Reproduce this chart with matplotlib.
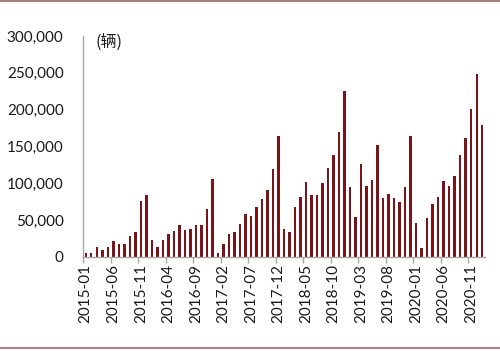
import matplotlib
matplotlib.use("Agg")
import matplotlib.pyplot as plt
from matplotlib.lines import Line2D

plt.rcParams['font.family'] = ['Lato', 'Noto Sans CJK SC', 'DejaVu Sans']

months = [f"{y}-{m:02d}" for y in range(2015, 2021) for m in range(1, 13)] + ["2021-01"]
values = [
    6000, 6000, 13600, 10000, 13000, 21400, 17000, 17800, 28000, 34600, 76000, 84000,
    22800, 13600, 22800, 31600, 35000, 44000, 36700, 38000, 44000, 44000, 65000, 106000,
    5500, 17000, 31000, 34000, 44500, 59000, 56000, 68000, 78700, 91000, 119000, 163600,
    38000, 34000, 68000, 82000, 102000, 84000, 84000, 101000, 121000, 138000, 170000, 225000,
    95500, 53700, 126000, 96000, 104600, 152000, 80000, 85000, 79600, 75000, 95500, 163600,
    46000, 12000, 52800, 72000, 82000, 103600, 97000, 110000, 138000, 161000, 201000, 249000,
    179600,
]
yticks = [0, 50000, 100000, 150000, 200000, 250000, 300000]
unit_label = "(辆)"

bar_color = "#7A1418"
axis_color = "#A6A6A6"
frame_color = "#A58284"

fig = plt.figure(figsize=(5.0, 3.52), dpi=100)
ax = fig.add_axes([0.166, 0.2699, 0.804, 0.628])

x = list(range(len(values)))
ax.bar(x, values, width=0.45, color=bar_color, linewidth=0)

ax.set_xlim(-0.5, len(values) - 0.5)
ax.set_ylim(0, 300000)

ax.set_yticks(yticks)
ax.set_yticklabels([f"{v:,}" for v in yticks], fontsize=11, color="#1a1a1a")
ax.tick_params(axis='y', length=0, pad=14)

label_idx = list(range(0, len(values), 5))
ax.set_xticks([i - 0.5 for i in label_idx])
ax.set_xticklabels([])
ax.tick_params(axis='x', which='major', length=4, color=axis_color, width=1)
ax.set_xticks(label_idx, minor=True)
ax.set_xticklabels([months[i] for i in label_idx], minor=True, rotation=90,
                   fontsize=11, color="#1a1a1a")
ax.tick_params(axis='x', which='minor', length=0, pad=5)

for s in ['top', 'right']:
    ax.spines[s].set_visible(False)
for s in ['left', 'bottom']:
    ax.spines[s].set_color(axis_color)
    ax.spines[s].set_linewidth(1)

ax.text(0.03, 1.01, unit_label, transform=ax.transAxes, fontsize=11.5,
        va='top', ha='left', family=['Noto Sans CJK SC', 'DejaVu Sans'], color="#1a1a1a")

fig.add_artist(Line2D([0, 1], [0.996, 0.996], transform=fig.transFigure, color=frame_color, lw=1.5))
fig.add_artist(Line2D([0, 1], [0.012, 0.012], transform=fig.transFigure, color=frame_color, lw=1.5))

fig.savefig("out.png", dpi=100)
